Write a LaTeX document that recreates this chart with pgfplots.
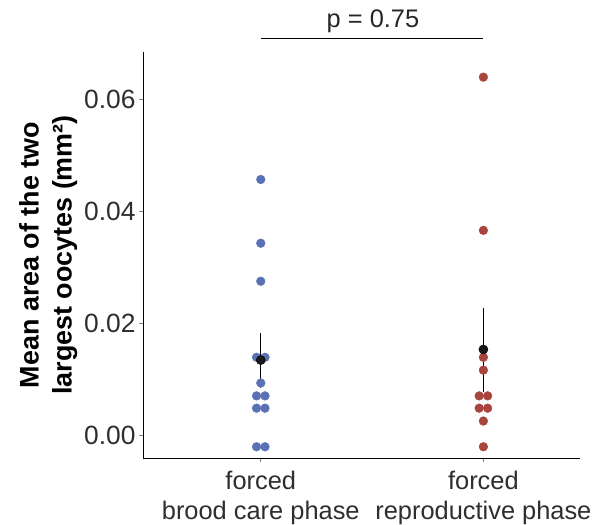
\documentclass[border=0pt]{standalone}
\usepackage{pgfplots}
\pgfplotsset{compat=1.18}
\usepackage{fontspec}
\setmainfont{Liberation Sans}
\definecolor{cblue}{HTML}{5A72B5}
\definecolor{cred}{HTML}{A9453F}
\definecolor{tickgray}{HTML}{2E2E2E}
\begin{document}
\begin{tikzpicture}[x=1bp,y=1bp]
\path[use as bounding box] (0,0) rectangle (600,525);
\begin{axis}[
  at={(143bp,67bp)}, anchor=south west,
  scale only axis, width=437bp, height=406bp,
  xmin=0.471, xmax=2.434, ymin=-0.00411, ymax=0.0685,
  clip=false,
  scaled y ticks=false,
  axis lines=left,
  axis line style={black, line width=0.8pt, -},
  xtick={1,2},
  xticklabels={forced\\brood care phase, forced\\reproductive phase},
  xticklabel style={align=center, font=\fontsize{25.5}{30}\selectfont, text=tickgray, yshift=-6bp},
  ytick={0,0.02,0.04,0.06},
  yticklabels={0.00,0.02,0.04,0.06},
  yticklabel style={font=\fontsize{26.5}{30}\selectfont, text=tickgray},
  tick style={gray, line width=0.8pt},
  major tick length=4bp,
  tick align=outside,
  ylabel={Mean area of the two\\largest oocytes (mm²)},
  ylabel style={align=center, font=\fontsize{27}{33}\selectfont\bfseries},
]
\addplot[only marks, mark=*, mark size=4.4pt, color=cblue, mark options={draw=none, fill=cblue}] coordinates {
(1,0.0457) (1,0.0343) (1,0.0275)
(0.981,0.0139) (1.019,0.0139)
(1,0.0093)
(0.981,0.0070) (1.019,0.0070)
(0.981,0.0048) (1.019,0.0048)
(0.981,-0.0021) (1.019,-0.0021)
};
\addplot[only marks, mark=*, mark size=4.4pt, color=cred, mark options={draw=none, fill=cred}] coordinates {
(2,0.0640) (2,0.0366)
(2,0.0139) (2,0.0116)
(1.981,0.0070) (2.019,0.0070)
(1.981,0.0048) (2.019,0.0048)
(2,0.0025) (2,-0.0021)
};
\addplot[black, line width=1.2pt] coordinates {(1,0.0084) (1,0.0183)};
\addplot[black, line width=1.2pt] coordinates {(2,0.0077) (2,0.0228)};
\addplot[only marks, mark=*, mark size=4.6pt, color=black, mark options={draw=none, fill=black!90}] coordinates {(1,0.0134) (2,0.0153)};
\draw[black, line width=0.8pt] (axis cs:1,0.0710) -- (axis cs:2,0.0710);
\node[anchor=base, font=\fontsize{25.5}{30}\selectfont, text=black!85] at (axis cs:1.504,0.0728) {p = 0.75};
\end{axis}
\end{tikzpicture}
\end{document}
